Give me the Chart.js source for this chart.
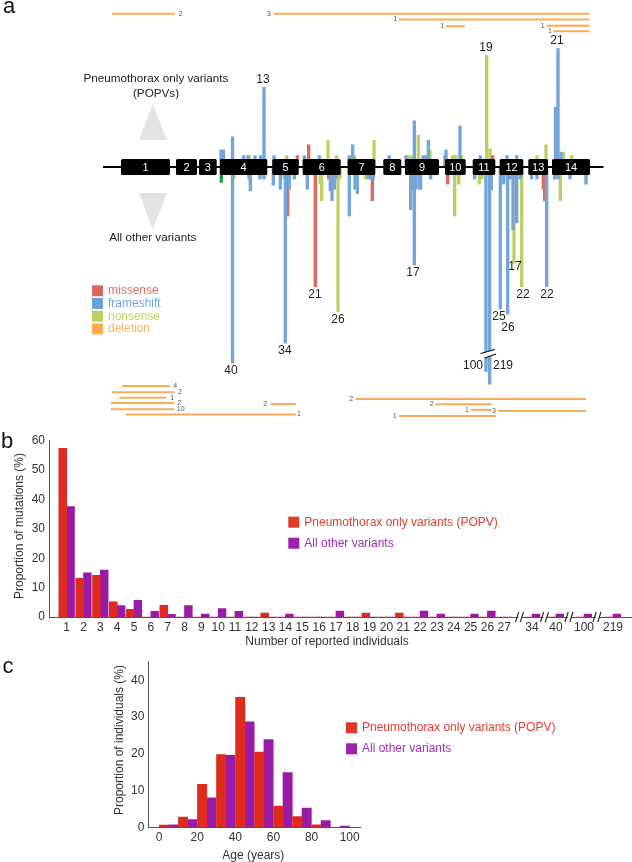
<!DOCTYPE html>
<html>
<head>
<meta charset="utf-8">
<script src="https://cdn.jsdelivr.net/npm/chart.js@4/dist/chart.umd.min.js"></script>
<style>
  html, body { margin: 0; padding: 0; background: #fff; }
  body { position: relative; width: 632px; height: 862px; overflow: hidden; }
  canvas { position: absolute; left: 0; }
</style>
</head>
<body>
<canvas id="geneChart" width="632" height="425" style="top:0"></canvas>
<canvas id="countChart" width="632" height="222" style="top:428px"></canvas>
<canvas id="ageChart" width="632" height="212" style="top:650px"></canvas>
<script>
// panel a: variants along the gene (position, signed height; up = POPV, down = all other)
const frameshiftPos = [221, 223.5, 232.5, 243.5, 248, 255, 260.5, 264, 274, 304.3, 319.3, 349, 352.7, 389.3, 406, 414.3, 423, 426, 428.3, 446, 460, 480.3, 507, 516.7, 555.5, 558, 561,
  232.5, 249, 250.3, 260, 264, 273.3, 280.3, 285.3, 289.3, 294.3, 307.3, 330.3, 332, 334.3, 336, 349.3, 355, 357.3, 368.3, 370.7, 373.3, 410.7, 412, 414.3, 416, 419.3, 420.7, 430.7, 474.7, 486, 489.7, 491.3, 500.3, 503.7, 507.7, 510, 513, 516.7, 520.3, 531.7, 537, 546.7, 554.7, 558, 570, 586];
const frameshiftVal = [3, 3, 5.3, 2, 2, 2, 2, 14, 2, 2, 2, 2, 3.9, 2, 2, 8.1, 2, 2, 4.7, 3, 7.2, 2, 2, 2, 10.5, 20.8, 2.6,
  -34.4, -2.1, -4.2, -2.1, -2.1, -3.2, -3.9, -30.9, -3.9, -2.1, -3.9, -4.2, -5.9, -3.9, -2.1, -8.6, -3.9, -4.7, -2.1, -2.1, -2.1, -7.5, -4, -17.2, -3.9, -3.9, -3.9, -2.1, -2.1, -35.9, -38.1, -4, -24.9, -3, -25.8, -2.1, -11, -9.8, -2.1, -2.1, -2.1, -21, -2.1, -2.1, -2.1, -3];
const missensePos = [297.3, 308.7, 445, 492.7, 287.7, 315.3, 328.7, 372.3, 447.7, 543.3, 544.7];
const missenseVal = [2, 3.9, 2, 2, -8.6, -21, -2.1, -5.9, -3, -3.9, -5.9];
const nonsensePos = [249, 286.7, 328, 336.7, 350.7, 354.7, 374, 409, 411, 418.3, 430, 452.7, 455.7, 461.3, 486.7, 490, 537, 546, 563.3, 571.7,
  234, 284, 320.3, 321.7, 338, 340, 365.3, 454.7, 458.7, 479.3, 482, 514, 521.7, 560.3];
const nonsenseVal = [2, 2, 4.7, 2, 2, 2, 4.7, 2, 2, 5.6, 3, 2, 2, 2, 19.6, 3.2, 2, 3.9, 2.6, 2,
  -2.1, -2.1, -3, -5.9, -25.4, -2.1, -2.1, -8.6, -3, -3, -2.1, -16.9, -21, -5.9];
const otherPos = [221.3];
const otherVal = [-2.7];

const exonNames = ['1', '2', '3', '4', '5', '6', '7', '8', '9', '10', '11', '12', '13', '14'];
const exonStart = [121, 176, 199, 220, 272.3, 302.7, 347.7, 383.3, 405, 445, 472.7, 499.7, 528.3, 552];
const exonEnd = [170, 197, 216.7, 267.3, 298.7, 340.7, 375.3, 401.3, 439, 465.7, 495.3, 523.3, 548, 590];

const peakText = ['13', '19', '21', '40', '34', '21', '26', '17', '17', '22', '22', '25', '26', '100', '219'];
const peakPos = [263, 486, 557, 231, 285, 315, 338, 413, 515, 523, 547, 499, 508, 473, 503];
const peakVal = [14, 19.6, 20.8, -34.4, -30.9, -21, -25.4, -17.2, -16.1, -21, -21, -24.9, -26.7, -33.4, -33.4];

const delStart = [112, 273.3, 398.7, 446, 546.7, 553.3, 122, 111.7, 119.3, 111, 110.7, 125.7, 270.7, 355.7, 435.3, 471, 498, 399];
const delEnd = [175, 589.3, 589.3, 464.7, 589.3, 589.3, 170, 174.3, 166.3, 174.3, 174.3, 296, 296, 586, 491.7, 491.7, 586, 495.7];
const delLane = [26.9, 26.9, 25.9, 24.7, 24.8, 23.8, -38.4, -39.5, -40.5, -41.4, -42.5, -43.4, -41.6, -40.7, -41.6, -42.6, -42.8, -43.7];
const delCount = ['2', '3', '1', '1', '1', '1', '4', '2', '1', '2', '10', '1', '2', '2', '2', '1', '3', '1'];
const delCountPos = [180.7, 269, 395.3, 442.3, 542.7, 550, 175.3, 180, 172.3, 179.3, 180.7, 299, 265.3, 351.3, 431.7, 467, 494, 394.7];

// panel b: proportion of mutations by number of reported individuals
const countLabels = ['1', '2', '3', '4', '5', '6', '7', '8', '9', '10', '11', '12', '13', '14', '15', '16', '17', '18', '19', '20', '21', '22', '23', '24', '25', '26', '27', '34', '40', '100', '219'];
const countSlots = [1, 2, 3, 4, 5, 6, 7, 8, 9, 10, 11, 12, 13, 14, 15, 16, 17, 18, 19, 20, 21, 22, 23, 24, 25, 26, 27, 28.65, 30.07, 31.74, 33.46];
const countPopv = [57.4, 13.2, 14.2, 5.2, 2.6, 0, 4, 0, 0, 0, 0, 0, 1.3, 0, 0, 0, 0, 0, 1.3, 0, 1.3, 0, 0, 0, 0, 0, 0, 0, 0, 0, 0];
const countOther = [37.6, 15, 16, 3.9, 5.7, 1.9, 0.9, 3.9, 1, 2.9, 1.9, 0, 0, 1, 0, 0, 2, 0, 0, 0, 0, 2, 1, 0, 1, 2, 0, 1, 1, 1, 1];

// panel c: proportion of individuals by age
const ageBins = [5, 15, 25, 35, 45, 55, 65, 75, 85, 95];
const agePopv = [0.6, 2.8, 11.7, 19.8, 35.4, 20.5, 5.8, 2.9, 0.7, 0];
const ageOther = [0.7, 2.1, 8, 19.6, 28.7, 23.9, 14.9, 5.2, 1.8, 0.35];

const FONT = '"Liberation Sans", Arial, sans-serif';
const RED = '#e02a1c', PURPLE = '#9a1aa8';
const BLUE_BAR = '#74a5db', RED_BAR = '#d96b63', OLIVE_BAR = '#bdd063', ORANGE = '#fbab57';

Chart.defaults.font.family = FONT;
Chart.defaults.animation = false;
Chart.defaults.plugins.legend.display = false;
Chart.defaults.plugins.tooltip.enabled = false;

function zip(xs, ys) {
  return xs.map((x, i) => ({ x: x, y: ys[i] }));
}

function put(ctx, text, x, y, size, color, align) {
  ctx.font = size + 'px ' + FONT;
  ctx.fillStyle = color;
  ctx.textAlign = align || 'center';
  ctx.textBaseline = 'middle';
  ctx.fillText(text, x, y);
}

function triangle(ctx, x0, y0, x1, y1, x2, y2) {
  ctx.fillStyle = '#e3e3e3';
  ctx.beginPath();
  ctx.moveTo(x0, y0);
  ctx.lineTo(x1, y1);
  ctx.lineTo(x2, y2);
  ctx.closePath();
  ctx.fill();
}

// Draw the gene, labels and legend on top of the bars
const genePlugin = {
  id: 'gene',
  afterDatasetsDraw(chart) {
    const ctx = chart.ctx;
    const x = chart.scales.x, y = chart.scales.y;
    const mid = y.getPixelForValue(0);

    ctx.save();
    ctx.strokeStyle = '#000';
    ctx.lineWidth = 2;
    ctx.beginPath();
    ctx.moveTo(x.getPixelForValue(103), mid);
    ctx.lineTo(x.getPixelForValue(603.5), mid);
    ctx.stroke();

    exonNames.forEach((name, i) => {
      const left = x.getPixelForValue(exonStart[i]);
      const right = x.getPixelForValue(exonEnd[i]);
      ctx.fillStyle = '#000';
      ctx.beginPath();
      ctx.roundRect(left, mid - 8, right - left, 16, 1.5);
      ctx.fill();
      put(ctx, name, (left + right) / 2, mid + 0.5, 11, '#fff');
    });

    peakText.forEach((t, i) => {
      const tip = y.getPixelForValue(peakVal[i]);
      put(ctx, t, x.getPixelForValue(peakPos[i]), peakVal[i] > 0 ? tip - 7.5 : tip + 8, 12, '#222');
    });

    delCount.forEach((t, i) => {
      put(ctx, t, x.getPixelForValue(delCountPos[i]), y.getPixelForValue(delLane[i]), 7, '#555');
    });

    // break in the two longest bars
    ctx.fillStyle = '#fff';
    ctx.beginPath();
    ctx.moveTo(480.5, 353.5);
    ctx.lineTo(495, 349.5);
    ctx.lineTo(496, 354);
    ctx.lineTo(484.5, 358);
    ctx.closePath();
    ctx.fill();
    ctx.strokeStyle = '#111';
    ctx.lineWidth = 1.1;
    ctx.beginPath();
    ctx.moveTo(480.5, 353.5);
    ctx.lineTo(495, 349.5);
    ctx.moveTo(484.5, 358);
    ctx.lineTo(496, 354);
    ctx.stroke();

    triangle(ctx, 152.7, 104, 139, 140, 167, 140);
    triangle(ctx, 152.7, 229, 139, 193, 167, 193);
    put(ctx, 'a', 9, 7, 22, '#111');
    put(ctx, 'Pneumothorax only variants', 156, 79, 11.7, '#222');
    put(ctx, '(POPVs)', 156, 93.5, 11.7, '#222');
    put(ctx, 'All other variants', 152.7, 238, 11.7, '#222');

    const names = ['missense', 'frameshift', 'nonsense', 'deletion'];
    const boxes = ['#d9675f', '#6a9ed8', '#bcd05e', '#fdab4e'];
    const inks = ['#dd6f66', '#6fa5dd', '#c0d468', '#fbb062'];
    names.forEach((n, i) => {
      const top = 285.3 + i * 12.7;
      ctx.fillStyle = boxes[i];
      ctx.fillRect(92, top, 11, 11);
      put(ctx, n, 108, top + 5.5, 12, inks[i], 'left');
    });
    ctx.restore();
  }
};

function deletionSets() {
  return delStart.map((s, i) => ({
    type: 'line',
    data: [{ x: s, y: delLane[i] }, { x: delEnd[i], y: delLane[i] }],
    borderColor: ORANGE,
    borderWidth: 2,
    pointRadius: 0
  }));
}

function variantSet(pos, val, color) {
  return { data: zip(pos, val), backgroundColor: color, barThickness: 2.7, grouped: false };
}

new Chart(document.getElementById('geneChart'), {
  type: 'bar',
  data: {
    datasets: [
      variantSet(frameshiftPos, frameshiftVal, BLUE_BAR),
      variantSet(missensePos, missenseVal, RED_BAR),
      variantSet(nonsensePos, nonsenseVal, OLIVE_BAR),
      variantSet(otherPos, otherVal, '#1f9a4c')
    ].concat(deletionSets())
  },
  options: {
    responsive: false,
    devicePixelRatio: 1,
    layout: { padding: 0 },
    scales: {
      x: { type: 'linear', min: 0, max: 632, offset: false, display: false },
      y: { type: 'linear', min: -45.26, max: 29.3, display: false }
    }
  },
  plugins: [genePlugin]
});

// Shared axes for panels b and c
function valueAxis(max, width) {
  return {
    min: 0,
    max: max,
    afterFit(s) { s.width = width; },
    grid: { display: false, drawTicks: false },
    border: { display: true, color: '#555', width: 1 },
    ticks: { stepSize: 10, includeBounds: false, color: '#333', font: { size: 12 }, padding: 4 }
  };
}

function bottomAxis(min, max, height) {
  return {
    type: 'linear',
    min: min,
    max: max,
    offset: false,
    afterFit(s) { s.height = height; },
    grid: { display: false, drawTicks: false },
    border: { display: true, color: '#555', width: 1 },
    ticks: { color: '#333', font: { size: 12 }, padding: 3, autoSkip: false, maxRotation: 0, minRotation: 0 }
  };
}

function pairSets(xs, popv, other, thickness) {
  return [
    { data: zip(xs, popv), backgroundColor: RED, barThickness: thickness },
    { data: zip(xs, other), backgroundColor: PURPLE, barThickness: thickness }
  ];
}

function panelLegend(ctx, x, y0, y1, popvText, otherText) {
  ctx.fillStyle = '#dd3a2c';
  ctx.fillRect(x, y0, 11, 11);
  ctx.fillStyle = '#9d22ad';
  ctx.fillRect(x, y1, 11, 11);
  put(ctx, popvText, x + 16, y0 + 5.5, 12, '#e2402f', 'left');
  put(ctx, otherText, x + 16, y1 + 5.5, 12, '#a82cba', 'left');
}

function rotated(ctx, text, x, y) {
  ctx.save();
  ctx.translate(x, y);
  ctx.rotate(-Math.PI / 2);
  put(ctx, text, 0, 0, 12, '#333');
  ctx.restore();
}

const countAxis = bottomAxis(-0.05, 34.59, 33);
countAxis.afterBuildTicks = s => { s.ticks = countSlots.map(v => ({ value: v })); };
countAxis.ticks.callback = (v, i) => countLabels[i];

new Chart(document.getElementById('countChart'), {
  type: 'bar',
  data: { datasets: pairSets(countSlots, countPopv, countOther, 7.8) },
  options: {
    responsive: false,
    devicePixelRatio: 1,
    layout: { padding: { top: 12.7, left: 0, right: 0, bottom: 0 } },
    scales: { x: countAxis, y: valueAxis(60, 49) }
  },
  plugins: [{
    id: 'countText',
    afterDraw(chart) {
      const ctx = chart.ctx;
      ctx.save();
      // double slashes where the x axis skips values
      [519.5, 544.5, 569, 597].forEach(cx => {
        ctx.fillStyle = '#fff';
        ctx.fillRect(cx - 1, 186, 3, 6);
        ctx.strokeStyle = '#222';
        ctx.lineWidth = 1.1;
        ctx.beginPath();
        ctx.moveTo(cx - 4, 194);
        ctx.lineTo(cx - 0.8, 184);
        ctx.moveTo(cx + 0.8, 194);
        ctx.lineTo(cx + 4, 184);
        ctx.stroke();
      });
      put(ctx, 'b', 7, 14, 22, '#111');
      rotated(ctx, 'Proportion of mutations (%)', 20, 98);
      put(ctx, 'Number of reported individuals', 327, 213.5, 12, '#333');
      panelLegend(ctx, 288.3, 88.7, 109.7, 'Pneumothorax only variants (POPV)', 'All other variants');
      ctx.restore();
    }
  }]
});

const ageAxis = bottomAxis(-5.7, 105.8, 34.7);
ageAxis.ticks.stepSize = 20;
ageAxis.ticks.includeBounds = false;

new Chart(document.getElementById('ageChart'), {
  type: 'bar',
  data: { datasets: pairSets(ageBins, agePopv, ageOther, 9.3) },
  options: {
    responsive: false,
    devicePixelRatio: 1,
    layout: { padding: { top: 5, left: 0, right: 271.3, bottom: 0 } },
    scales: { x: ageAxis, y: valueAxis(45.2, 148.3) }
  },
  plugins: [{
    id: 'ageText',
    afterDraw(chart) {
      const ctx = chart.ctx;
      ctx.save();
      put(ctx, 'c', 8, 17, 22, '#111');
      rotated(ctx, 'Proportion of individuals (%)', 120, 90);
      put(ctx, 'Age (years)', 253.3, 205.5, 12, '#333');
      panelLegend(ctx, 346, 72.3, 93.3, 'Pneumothorax only variants (POPV)', 'All other variants');
      ctx.restore();
    }
  }]
});
</script>
</body>
</html>
